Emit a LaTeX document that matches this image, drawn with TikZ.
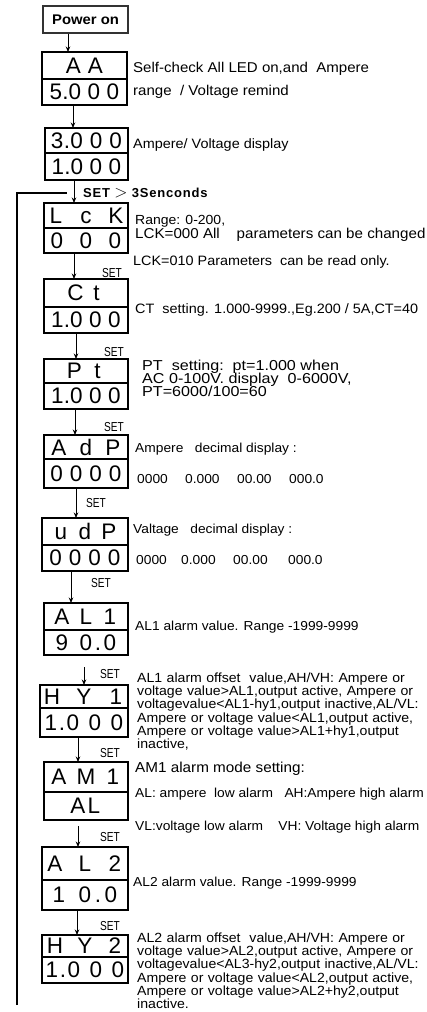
\documentclass[tikz,border=0pt]{standalone}
\usepackage{fontspec}
\setmainfont{Liberation Sans}[FakeStretch=1.06]
\newfontfamily\segfont{Liberation Sans}[FakeStretch=1.0]
\newfontfamily\setlabfont{Liberation Sans}[FakeStretch=0.78]
\newfontfamily\loopfont{Liberation Sans}[LetterSpace=6]
\newfontfamily\ptfont{Liberation Sans}[FakeStretch=1.12]
\usetikzlibrary{arrows.meta}
\newlength\segpitch
\newcommand\sd[1]{\makebox[\segpitch]{#1}}
\newcommand\sdot{\makebox[0pt]{.}}
\newcommand\segs[2]{\setlength\segpitch{#1pt}#2}
\newcommand\jl[1]{\makebox[\linewidth][s]{#1}}
\newcommand\dispbox[8]{%
  \node[cell, minimum width={(#3)-(#2)}, minimum height={(#5)-(#4)}] (#1u) at (#2,#4) {\makebox[0pt]{#7}};
  \node[cell, minimum width={(#3)-(#2)}, minimum height={(#6)-(#5)}] (#1l) at (#2,#5) {\makebox[0pt]{#8}};
  \draw[dispframe] (#1u.north west) rectangle (#1l.south east);
}
\begin{document}
\begin{tikzpicture}[x=1pt,y=-1pt,
  cell/.style={draw, line width=1.1pt, inner sep=0pt, outer sep=0pt, anchor=north west,
    font=\segfont\fontsize{22.5}{22.5}\selectfont},
  dispframe/.style={line width=2.3pt},
  arr/.style={line width=0.9pt, -{Stealth[length=5.5pt,width=4.5pt]}},
  lbl/.style={anchor=base west, inner sep=0pt, font=\fontsize{13.6}{13}\selectfont},
  lbls/.style={anchor=base west, inner sep=0pt, font=\fontsize{13}{12.3}\selectfont},
  ptlbl/.style={anchor=base west, inner sep=0pt, font=\ptfont\fontsize{14.4}{13}\selectfont},
  para/.style={anchor=base west, inner sep=0pt, font=\fontsize{13.3}{12.3}\selectfont,
    text width=277pt, align=left},
  setlab/.style={inner sep=0pt, font=\setlabfont\fontsize{13}{13}\selectfont},
  loopline/.style={line width=2.2pt, line join=miter},
  powerbox/.style={draw=black!80, line width=1.6pt, minimum width=85pt, minimum height=27pt,
    inner sep=0pt, font=\bfseries\fontsize{14}{14}\selectfont},
  looplab/.style={anchor=base west, inner sep=0pt, font=\loopfont\bfseries\fontsize{13}{13}\selectfont}
]
\useasboundingbox (0,0) rectangle (426,1012);

\node[powerbox] (pw) at (85.5,19.5) {Power on};

\dispbox{d1}{42}{127}{52}{79}{105}{\segs{22}{\sd A\sd A}}{\segs{19}{\sd 5\sdot\sd 0\sd 0\sd 0}}
\dispbox{d2}{45}{128}{128}{153}{180}{\segs{19.5}{\sd 3\sdot\sd 0\sd 0\sd 0}}{\segs{19}{\sd 1\sdot\sd 0\sd 0\sd 0}}
\dispbox{d3}{44}{128}{203}{228}{253}{\segs{30}{\sd L\sd c\sd K}}{\segs{29}{\sd 0\sd 0\sd 0}}
\dispbox{d4}{44}{128}{279}{307}{333}{\segs{21}{\sd C\sd t}}{\segs{19}{\sd 1\sdot\sd 0\sd 0\sd 0}}
\dispbox{d5}{44}{128}{359}{383}{409}{\segs{23}{\sd P\sd t}}{\segs{19}{\sd 1\sdot\sd 0\sd 0\sd 0}}
\dispbox{d6}{44}{128}{435}{459}{488}{\segs{27}{\sd A\sd d\sd P}}{\segs{19.5}{\sd 0\sd 0\sd 0\sd 0}}
\dispbox{d7}{42}{128}{518}{545}{571}{\segs{24}{\sd u\sd d\sd P}}{\segs{19.5}{\sd 0\sd 0\sd 0\sd 0}}
\dispbox{d8}{44}{128}{603}{630}{655}{\segs{24}{\sd A\sd L\sd 1}}{\segs{24}{\sd 9\sd 0\sdot\sd 0}}
\dispbox{d9}{40}{128}{685}{708}{737}{\segs{32}{\sd H\sd Y\sd 1}}{\segs{22}{\sd 1\sdot\sd 0\sd 0\sd 0}}
\dispbox{d10}{44}{128}{762}{792}{820}{\segs{27}{\sd A\sd M\sd 1}}{\segs{16}{\sd A\sd L}}
\dispbox{d11}{42}{128}{847}{880}{910}{\segs{30}{\sd A\sd L\sd 2}}{\segs{26}{\sd 1\sd 0\sdot\sd 0}}
\dispbox{d12}{42}{128}{935}{957}{983}{\segs{30}{\sd H\sd Y\sd 2}}{\segs{22}{\sd 1\sdot\sd 0\sd 0\sd 0}}

% arrows
\draw[arr] (pw.south -| 68,0) -- (d1u.north -| 68,0);
\draw[arr] (d1l.south -| 73,0) -- (d2u.north -| 73,0);
\draw[arr] (d2l.south -| 74,0) -- (d3u.north -| 74,0);
\draw[arr] (d3l.south -| 74,0) -- (d4u.north -| 74,0);
\draw[arr] (d4l.south -| 76,0) -- (d5u.north -| 76,0);
\draw[arr] (d5l.south -| 75,0) -- (d6u.north -| 75,0);
\draw[arr] (d6l.south -| 76,0) -- (d7u.north -| 76,0);
\draw[arr] (d7l.south -| 71,0) -- (d8u.north -| 71,0);
\draw[arr, shorten <=12pt] (d8l.south -| 84,0) -- (d9u.north -| 84,0);
\draw[arr] (d9l.south -| 78,0) -- (d10u.north -| 78,0);
\draw[arr, shorten <=6pt] (d10l.south -| 78,0) -- (d11u.north -| 78,0);
\draw[arr] (d11l.south -| 77,0) -- (d12u.north -| 77,0);

% return loop
\coordinate (lpb) at (17,1005);
\coordinate (lpt) at (17,193);
\coordinate (lpe) at (67,193);
\draw[loopline] (lpb) -- (lpt) -- (lpe);
\node[looplab] (loopt) at (83,197.5) {SET {\fontsize{16}{16}\selectfont$>$} 3Senconds};

% SET labels
\node[setlab] (s4) at (112,273) {SET};
\node[setlab] (s5) at (114,352) {SET};
\node[setlab] (s6) at (114,427) {SET};
\node[setlab] (s7) at (96,503) {SET};
\node[setlab] (s8) at (101,583) {SET};
\node[setlab] (s9) at (110,674) {SET};
\node[setlab] (s10) at (110,753) {SET};
\node[setlab] (s11) at (110,837) {SET};
\node[setlab] (s12) at (110,926) {SET};

% descriptions
\node[lbl, font=\fontsize{14.2}{14}\selectfont] (t1a) at (133,72) {Self-check All LED on,and\ \ Ampere};
\node[lbl, font=\fontsize{14.2}{14}\selectfont] (t1b) at (133,95) {range\ \ / Voltage remind};
\node[lbl] (t2) at (133,148) {Ampere/ Voltage display};
\node[lbl, font=\fontsize{13.2}{13}\selectfont] (t3a) at (135,224) {Range: 0-200,};
\node[lbl, font=\fontsize{14.3}{13}\selectfont] (t3b) at (135,238) {LCK=000 All\ \ \ \ parameters can be changed};
\node[lbl] (t3c) at (133,265) {LCK=010 Parameters\ \ can be read only.};
\node[lbl] (t4) at (135,313) {CT\ \ setting. 1.000-9999.,Eg.200 / 5A,CT=40};
\node[ptlbl] (t5a) at (142,370) {PT\ \ setting:\ \ pt=1.000 when};
\node[ptlbl] (t5b) at (142,383) {AC 0-100V. display\ \ 0-6000V,};
\node[ptlbl] (t5c) at (142,396) {PT=6000/100=60};
\node[lbls] (t6a) at (135,452) {Ampere\ \ \ decimal display :};
\node[lbls] (t6b) at (137,483) {\makebox[48pt][l]{0000}\makebox[52pt][l]{0.000}\makebox[52pt][l]{00.00}000.0};
\node[lbls] (t7a) at (133,533) {Valtage\ \ \ decimal display :};
\node[lbls] (t7b) at (136,564) {\makebox[45pt][l]{0000}\makebox[52pt][l]{0.000}\makebox[55pt][l]{00.00}000.0};
\node[lbls] (t8) at (135,630) {AL1 alarm value. Range -1999-9999};
\node[para] (t9) at (137,682) {\jl{AL1 alarm offset\ \ value,AH/VH: Ampere or}\\
 \jl{voltage value>AL1,output active, Ampere or}\\
 \jl{voltagevalue<AL1-hy1,output inactive,AL/VL:}\\
 \jl{Ampere or voltage value<AL1,output active,}\\
 \jl{Ampere or voltage value>AL1+hy1,output}\\
 inactive,};
\node[lbls, font=\fontsize{14.4}{13}\selectfont] (t10a) at (135,772) {AM1 alarm mode setting:};
\node[lbls] (t10b) at (135,797) {AL: ampere\ \ low alarm\ \ \ AH:Ampere high alarm};
\node[lbls] (t10c) at (135,830) {VL:voltage low alarm\ \ \ \ VH: Voltage high alarm};
\node[lbls] (t11) at (133,886) {AL2 alarm value. Range -1999-9999};
\node[para] (t12) at (137,942) {\jl{AL2 alarm offset\ \ value,AH/VH: Ampere or}\\
 \jl{voltage value>AL2,output active, Ampere or}\\
 \jl{voltagevalue<AL3-hy2,output inactive,AL/VL:}\\
 \jl{Ampere or voltage value<AL2,output active,}\\
 \jl{Ampere or voltage value>AL2+hy2,output}\\
 inactive.};
\end{tikzpicture}
\end{document}
